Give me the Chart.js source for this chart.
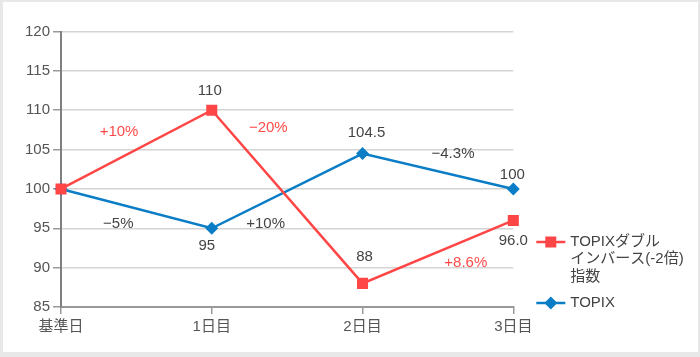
<!DOCTYPE html>
<html>
<head>
<meta charset="utf-8">
<script src="https://cdn.jsdelivr.net/npm/chart.js@4/dist/chart.umd.min.js"></script>
<style>
  html, body { margin: 0; padding: 0; background: #e8e8e8; width: 700px; height: 357px; overflow: hidden; }
  #frame { position: absolute; left: 3px; top: 2px; width: 695px; height: 350px; background: #ffffff; }
  canvas { display: block; }
</style>
</head>
<body>
<div id="frame"><canvas id="c" width="695" height="350"></canvas></div>
<script>
// ---- data ----
const categories = ['基準日', '1日目', '2日目', '3日目'];
const inverseName = ['TOPIXダブル', 'インバース(-2倍)', '指数'];
const topixName = 'TOPIX';
const inverseValues = [100, 110, 88, 96.0];
const topixValues = [100, 95, 104.5, 100];
const inverseValueLabels = ['', '110', '88', '96.0'];
const topixValueLabels = ['', '95', '104.5', '100'];
const inverseChanges = ['+10%', '−20%', '+8.6%'];
const topixChanges = ['−5%', '+10%', '−4.3%'];
const yTicks = [85, 90, 95, 100, 105, 110, 115, 120];

const RED = '#ff4646';
const BLUE = '#0a7dc6';
const FONT = '"Liberation Sans", "Noto Sans CJK JP", sans-serif';

// label placement (styles, not data)
const valueLabelOffsets = [
  [null, {dx: -2, dy: -19}, {dx: 2, dy: -27}, {dx: 0, dy: 20}],
  [null, {dx: -5, dy: 18}, {dx: 4, dy: -21}, {dx: -1, dy: -14}]
];
const changeLabelSpots = [
  [{f: 0.385, v: 107.2}, {f: 1.375, v: 107.7}, {f: 2.685, v: 90.6}],
  [{f: 0.38, v: 95.6}, {f: 1.357, v: 95.6}, {f: 2.60, v: 104.45}]
];

const labelsPlugin = {
  id: 'labelsPlugin',
  afterDatasetsDraw(chart) {
    const ctx = chart.ctx;
    const xs = chart.scales.x, ys = chart.scales.y;
    ctx.save();
    ctx.font = '15px ' + FONT;
    ctx.textAlign = 'center';
    ctx.textBaseline = 'middle';
    const valueLabels = [inverseValueLabels, topixValueLabels];
    valueLabels.forEach((arr, di) => {
      const meta = chart.getDatasetMeta(di);
      arr.forEach((t, i) => {
        if (!t) return;
        const p = meta.data[i];
        const o = valueLabelOffsets[di][i];
        ctx.fillStyle = '#444444';
        ctx.fillText(t, p.x + o.dx, p.y + o.dy);
      });
    });
    const changes = [inverseChanges, topixChanges];
    const colors = ['#ff4a4a', '#444444'];
    changes.forEach((arr, di) => {
      arr.forEach((t, i) => {
        const s = changeLabelSpots[di][i];
        ctx.fillStyle = colors[di];
        ctx.fillText(t, xs.getPixelForValue(s.f), ys.getPixelForValue(s.v));
      });
    });
    ctx.restore();
  },
  afterDraw(chart) {
    const ctx = chart.ctx;
    const a = chart.chartArea;
    const lx0 = a.right + 23, lx1 = a.right + 52, tx = a.right + 57;
    ctx.save();
    ctx.lineWidth = 2.5;
    // series 1 entry
    let y = 240;
    ctx.strokeStyle = RED;
    ctx.beginPath(); ctx.moveTo(lx0, y); ctx.lineTo(lx1, y); ctx.stroke();
    ctx.fillStyle = RED;
    ctx.fillRect((lx0 + lx1) / 2 - 5.5, y - 5.5, 11, 11);
    ctx.font = '15px ' + FONT;
    ctx.textAlign = 'left';
    ctx.textBaseline = 'middle';
    ctx.fillStyle = '#444444';
    inverseName.forEach((t, i) => ctx.fillText(t, tx, y + i * 17.2));
    // series 2 entry
    y = 301;
    ctx.strokeStyle = BLUE;
    ctx.beginPath(); ctx.moveTo(lx0, y); ctx.lineTo(lx1, y); ctx.stroke();
    ctx.fillStyle = BLUE;
    const cx = (lx0 + lx1) / 2, r = 6.5;
    ctx.beginPath();
    ctx.moveTo(cx - r, y); ctx.lineTo(cx, y - r); ctx.lineTo(cx + r, y); ctx.lineTo(cx, y + r);
    ctx.closePath(); ctx.fill();
    ctx.fillStyle = '#444444';
    ctx.fillText(topixName, tx, y);
    ctx.restore();
  }
};

new Chart(document.getElementById('c'), {
  type: 'line',
  data: {
    labels: categories,
    datasets: [
      {
        label: inverseName.join(''),
        data: inverseValues,
        borderColor: RED,
        backgroundColor: RED,
        borderWidth: 2.5,
        pointStyle: 'rect',
        pointRadius: 7.8,
        pointHoverRadius: 7.8,
        pointBorderWidth: 0,
        tension: 0
      },
      {
        label: topixName,
        data: topixValues,
        borderColor: BLUE,
        backgroundColor: BLUE,
        borderWidth: 2.5,
        pointStyle: 'rectRot',
        pointRadius: 6.5,
        pointHoverRadius: 6.5,
        pointBorderWidth: 0,
        tension: 0
      }
    ]
  },
  options: {
    responsive: false,
    animation: false,
    events: [],
    layout: { padding: { top: 29.5, right: 184.7, left: 0, bottom: 0 } },
    plugins: {
      legend: { display: false },
      tooltip: { enabled: false }
    },
    scales: {
      x: {
        offset: false,
        grid: { drawOnChartArea: false, drawTicks: true, tickLength: 7, tickColor: '#999999', lineWidth: 1.5 },
        border: { display: true, color: '#999999', width: 2 },
        ticks: { color: '#555555', font: { size: 15, family: FONT }, padding: 4, maxRotation: 0 },
        afterFit(s) { s.height = 45; }
      },
      y: {
        min: 85,
        max: 120,
        afterBuildTicks(s) { s.ticks = yTicks.map(v => ({ value: v })); },
        grid: { color: '#d4d4d4', lineWidth: 1.5, drawTicks: true, tickLength: 8, tickColor: '#999999' },
        border: { display: true, color: '#808080', width: 2 },
        ticks: { color: '#555555', font: { size: 15, family: FONT }, padding: 3 },
        afterFit(s) { s.width = 58; }
      }
    }
  },
  plugins: [labelsPlugin]
});
</script>
</body>
</html>
